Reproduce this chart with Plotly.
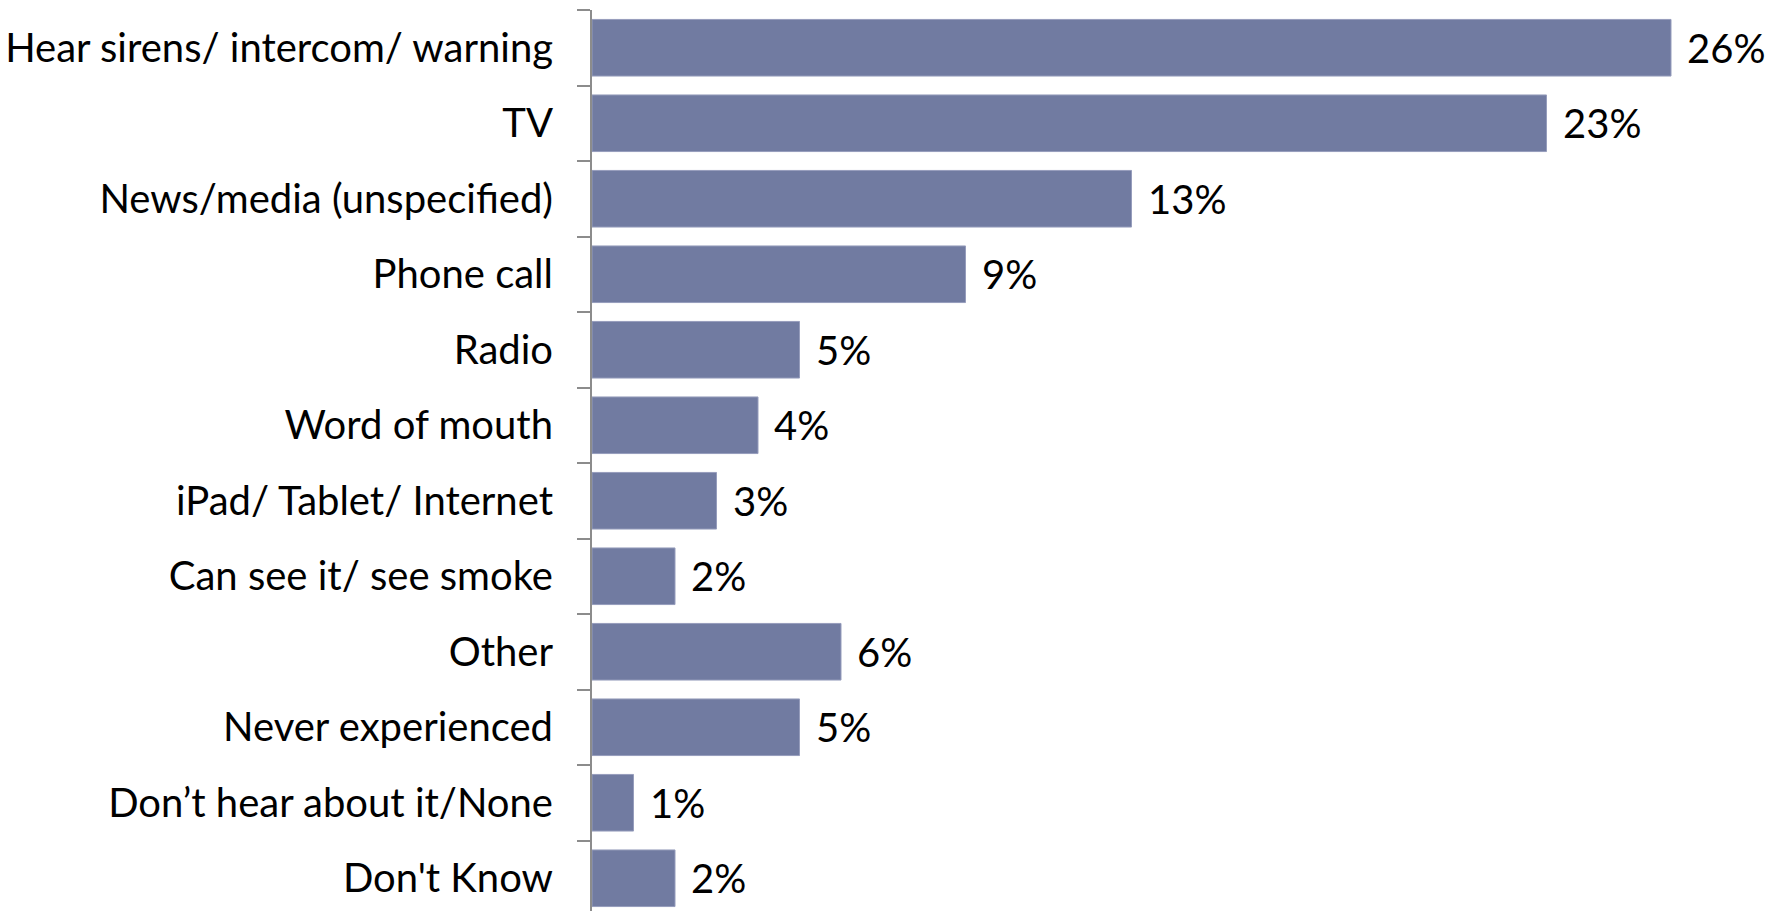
import plotly.graph_objects as go

# Sources of information about bushfire warnings (share of respondents, %)
categories = [
    "Hear sirens/ intercom/ warning",
    "TV",
    "News/media (unspecified)",
    "Phone call",
    "Radio",
    "Word of mouth",
    "iPad/ Tablet/ Internet",
    "Can see it/ see smoke",
    "Other",
    "Never experienced",
    "Don\u2019t hear about it/None",
    "Don't Know",
]
values = [26, 23, 13, 9, 5, 4, 3, 2, 6, 5, 1, 2]
value_labels = [f"{v}%" for v in values]

BAR_COLOR = "rgb(113,123,161)"
FONT = "Lato"
FONT_SIZE = 40

W, H = 1777, 911
LEFT = 592
TOP = 10
BAND = 75.5          # pixel height of one category slot
PX_PER_UNIT = 41.5   # horizontal pixels per percentage point

plot_w = W - LEFT
plot_h = H - TOP

fig = go.Figure(
    go.Bar(
        x=values,
        y=categories,
        orientation="h",
        marker=dict(color=BAR_COLOR, line=dict(color="rgb(150,157,188)", width=1)),
        width=0.75,
        hoverinfo="skip",
    )
)

# value labels to the right of each bar
for cat, v, lab in zip(categories, values, value_labels):
    fig.add_annotation(
        x=v, y=cat, text=lab, showarrow=False,
        xanchor="left", yanchor="middle", xshift=14,
        font=dict(family=FONT, size=FONT_SIZE, color="black"),
    )

fig.update_layout(
    width=W, height=H,
    margin=dict(l=LEFT, r=0, t=TOP, b=0, pad=0),
    paper_bgcolor="white", plot_bgcolor="white",
    showlegend=False,
    font=dict(family=FONT, size=FONT_SIZE, color="black"),
    xaxis=dict(
        range=[0, plot_w / PX_PER_UNIT],
        visible=False, showgrid=False, zeroline=False,
    ),
    yaxis=dict(
        type="category",
        categoryorder="array", categoryarray=categories,
        range=[-0.5 + plot_h / BAND, -0.5],
        showline=True, linecolor="rgb(140,140,140)", linewidth=2,
        ticks="outside", ticklen=13, tickwidth=2, tickcolor="rgb(140,140,140)",
        tickson="boundaries",
        ticklabelstandoff=29,
        showgrid=False, zeroline=False,
        tickfont=dict(family=FONT, size=FONT_SIZE, color="black"),
    ),
)

fig.write_html("out.html")
